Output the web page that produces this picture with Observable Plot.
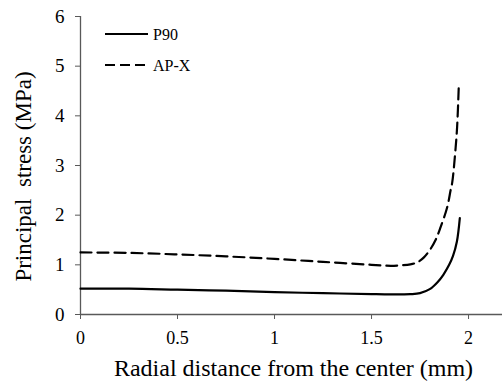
<!DOCTYPE html>
<html>
<head>
<meta charset="utf-8">
<script src="https://cdn.jsdelivr.net/npm/d3@7"></script>
<script src="https://cdn.jsdelivr.net/npm/@observablehq/plot@0.6"></script>
<style>
  html, body { margin: 0; padding: 0; background: #fff; font-family: "Liberation Serif", "Times New Roman", serif; }
  svg text { font-family: "Liberation Serif", "Times New Roman", serif; }
</style>
</head>
<body>
<div id="wrap"></div>
<script>
// Series names
const seriesNames = ["P90", "AP-X"];

// P90 (solid)
const p90X = [0, 0.25, 0.5, 0.75, 1.0, 1.25, 1.5, 1.6, 1.7, 1.75, 1.8, 1.84, 1.87, 1.9, 1.92, 1.94, 1.955];
const p90Y = [0.52, 0.52, 0.50, 0.48, 0.45, 0.43, 0.41, 0.405, 0.41, 0.43, 0.51, 0.65, 0.80, 1.0, 1.18, 1.47, 1.94];

// AP-X (dashed)
const apxX = [0, 0.25, 0.5, 0.75, 1.0, 1.25, 1.5, 1.6, 1.65, 1.7, 1.735, 1.77, 1.804, 1.83, 1.856, 1.89, 1.907, 1.916, 1.93, 1.941, 1.95];
const apxY = [1.25, 1.24, 1.21, 1.17, 1.12, 1.06, 1.00, 0.98, 0.99, 1.01, 1.05, 1.15, 1.32, 1.50, 1.76, 2.16, 2.49, 2.66, 3.2, 3.77, 4.64];

// Ticks and titles
const xTicks = [0, 0.5, 1, 1.5, 2];
const yTicks = [0, 1, 2, 3, 4, 5, 6];
const xTitle = "Radial distance from the center (mm)";
const yTitle = "Principal  stress (MPa)";

const p90 = p90X.map((x, i) => ({x, y: p90Y[i]}));
const apx = apxX.map((x, i) => ({x, y: apxY[i]}));

const font = "Liberation Serif";
const axisColor = "#595959";

// Legend rows built from the series names
const legendRows = [
  {name: seriesNames[0], dash: null},
  {name: seriesNames[1], dash: "10,5"}
];

function legendMark() {
  return () => {
    const g = d3.create("svg:g");
    legendRows.forEach((it, i) => {
      const y = 34 + i * 31;
      g.append("line")
        .attr("x1", 105).attr("x2", 148)
        .attr("y1", y).attr("y2", y)
        .attr("stroke", "black").attr("stroke-width", 2.2)
        .attr("stroke-dasharray", it.dash);
      g.append("text")
        .attr("x", 153).attr("y", y)
        .attr("dy", "0.35em")
        .attr("text-anchor", "start")
        .attr("font-family", font)
        .attr("font-size", 16)
        .attr("fill", "black")
        .text(it.name);
    });
    return g.node();
  };
}

const chart = Plot.plot({
  width: 502,
  height: 382,
  marginLeft: 80,
  marginRight: 0,
  marginTop: 16,
  marginBottom: 68,
  x: {domain: [0, 2.175]},
  y: {domain: [0, 6]},
  style: {fontFamily: font, fontSize: "18px"},
  marks: [
    Plot.ruleY([0], {stroke: axisColor, strokeWidth: 1.3}),
    Plot.ruleX([0], {stroke: axisColor, strokeWidth: 1.3}),
    Plot.axisX({ticks: xTicks, tickSize: 5, tickPadding: 12, tickFormat: d => String(d), label: null, stroke: axisColor, fill: "black", fontSize: 18, fontFamily: font}),
    Plot.axisY({ticks: yTicks, tickSize: 5, tickPadding: 11, tickFormat: d => String(d), label: null, stroke: axisColor, fill: "black", fontSize: 19, fontFamily: font}),
    Plot.line(apx, {x: "x", y: "y", stroke: "black", strokeWidth: 2.2, strokeDasharray: "11,6", curve: "catmull-rom"}),
    Plot.line(p90, {x: "x", y: "y", stroke: "black", strokeWidth: 2.2, curve: "catmull-rom"}),
    Plot.text([xTitle], {frameAnchor: "bottom", lineAnchor: "bottom", dy: 61, dx: 2, fontSize: 24, fill: "black", fontFamily: font}),
    Plot.text([yTitle], {frameAnchor: "left", textAnchor: "middle", lineAnchor: "bottom", rotate: -90, dx: -50, dy: 11, fontSize: 23, fill: "black", fontFamily: font}),
    legendMark()
  ]
});

document.getElementById("wrap").appendChild(chart);
</script>
</body>
</html>
